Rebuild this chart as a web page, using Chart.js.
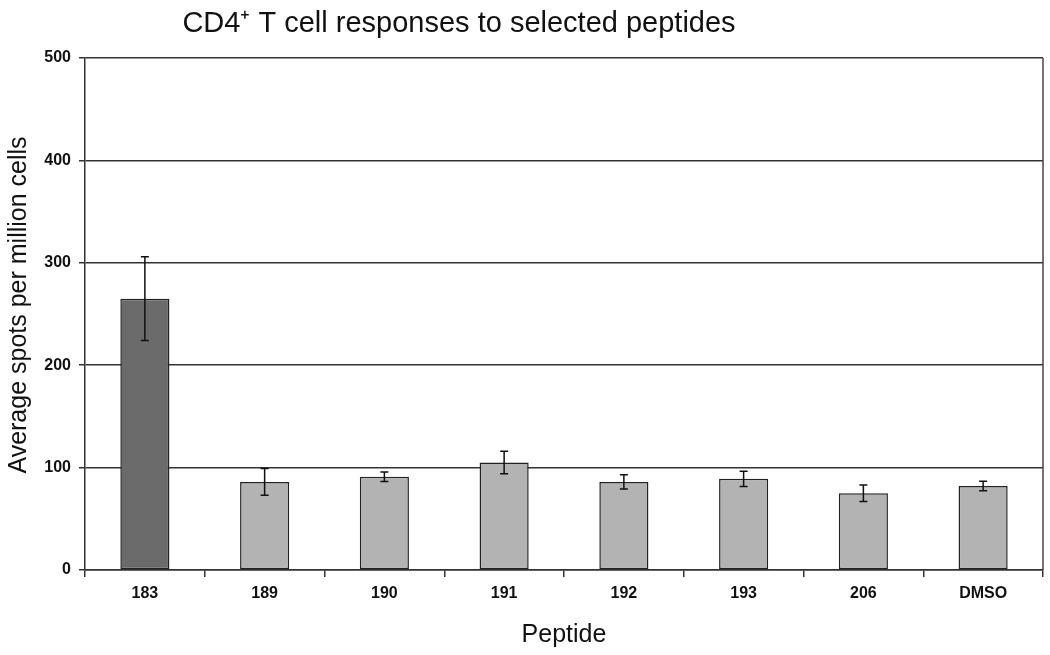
<!DOCTYPE html>
<html>
<head>
<meta charset="utf-8">
<script src="https://cdn.jsdelivr.net/npm/chart.js@4.4.1/dist/chart.umd.min.js"></script>
<style>
  html, body { margin: 0; padding: 0; background: #ffffff; }
  #wrap { width: 1050px; height: 655px; }
</style>
</head>
<body>
<div id="wrap"><canvas id="c" width="1050" height="655"></canvas></div>
<script>
const categories = ["183", "189", "190", "191", "192", "193", "206", "DMSO"];
const meanSpots = [265, 86, 91, 105, 86, 89, 75, 82];
const errorSpots = [41, 13, 4.6, 11, 7, 7.5, 8, 4.6];
const yTicks = [0, 100, 200, 300, 400, 500];
const titleText = "CD4\u207A T cell responses to selected peptides";
const xTitle = "Peptide";
const yTitle = "Average spots per million cells";

const barColors = categories.map((c, i) => i === 0 ? "#6b6b6b" : "#b3b3b3");

const errorBarPlugin = {
  id: "errorBars",
  afterDatasetsDraw(chart) {
    const ctx = chart.ctx;
    const meta = chart.getDatasetMeta(0);
    const y = chart.scales.y;
    ctx.save();
    ctx.strokeStyle = "#111";
    ctx.lineWidth = 1.5;
    meta.data.forEach((bar, i) => {
      const x = bar.x;
      const top = y.getPixelForValue(meanSpots[i] + errorSpots[i]);
      const bot = y.getPixelForValue(meanSpots[i] - errorSpots[i]);
      ctx.beginPath();
      ctx.moveTo(x, top); ctx.lineTo(x, bot);
      ctx.moveTo(x - 4, top); ctx.lineTo(x + 4, top);
      ctx.moveTo(x - 4, bot); ctx.lineTo(x + 4, bot);
      ctx.stroke();
    });
    ctx.restore();
  }
};

const framePlugin = {
  id: "frame",
  beforeDatasetsDraw(chart) {
    const a = chart.chartArea;
    const ctx = chart.ctx;
    ctx.save();
    ctx.strokeStyle = "#444";
    ctx.lineWidth = 1.5;
    ctx.beginPath();
    ctx.moveTo(a.right, a.top);
    ctx.lineTo(a.right, a.bottom);
    ctx.stroke();
    ctx.restore();
  },
  afterDraw(chart) {
    const ctx = chart.ctx;
    ctx.save();
    ctx.fillStyle = "#111";
    ctx.font = "29px 'Liberation Sans', Arial, sans-serif";
    ctx.textAlign = "center";
    ctx.textBaseline = "alphabetic";
    ctx.fillText(titleText, 459, 32);
    ctx.restore();
    ctx.save();
    ctx.fillStyle = "#111";
    ctx.font = "25px 'Liberation Sans', Arial, sans-serif";
    ctx.textAlign = "center";
    ctx.translate(19, 305);
    ctx.rotate(-Math.PI / 2);
    ctx.textBaseline = "middle";
    ctx.fillText(yTitle, 0, 0);
    ctx.restore();
  }
};

new Chart(document.getElementById("c"), {
  type: "bar",
  data: {
    labels: categories,
    datasets: [{
      data: meanSpots,
      backgroundColor: barColors,
      borderColor: "#222",
      borderWidth: 1.5,
      borderSkipped: false,
      categoryPercentage: 1.0,
      barPercentage: 0.41
    }]
  },
  options: {
    responsive: false,
    animation: false,
    devicePixelRatio: 1,
    layout: { padding: { top: 58, right: 7, bottom: 0, left: 0 } },
    plugins: {
      legend: { display: false },
      title: { display: false },
      tooltip: { enabled: false }
    },
    scales: {
      x: {
        grid: { display: true, drawOnChartArea: false, drawTicks: true, tickLength: 7, color: "#333", lineWidth: 1.5, offset: true },
        border: { display: true, color: "#333", width: 1.5 },
        ticks: { color: "#111", font: { family: "'Liberation Sans'", weight: "bold", size: 16 }, padding: 7, maxRotation: 0 },
        title: { display: true, text: xTitle, color: "#111", font: { family: "'Liberation Sans'", size: 25 }, padding: { top: 10, bottom: 5 } },
        afterFit(scale) { scale.height = 85; }
      },
      y: {
        min: 0, max: 500,
        afterBuildTicks(scale) { scale.ticks = yTicks.map(v => ({ value: v })); },
        grid: { color: "#333", lineWidth: 1.5, drawTicks: true, tickLength: 6 },
        border: { display: true, color: "#333", width: 1.5 },
        ticks: { color: "#111", font: { family: "'Liberation Sans'", weight: "bold", size: 16 }, padding: 8 },
        title: { display: false, text: yTitle },
        afterFit(scale) { scale.width = 85; }
      }
    }
  },
  plugins: [errorBarPlugin, framePlugin]
});
</script>
</body>
</html>
